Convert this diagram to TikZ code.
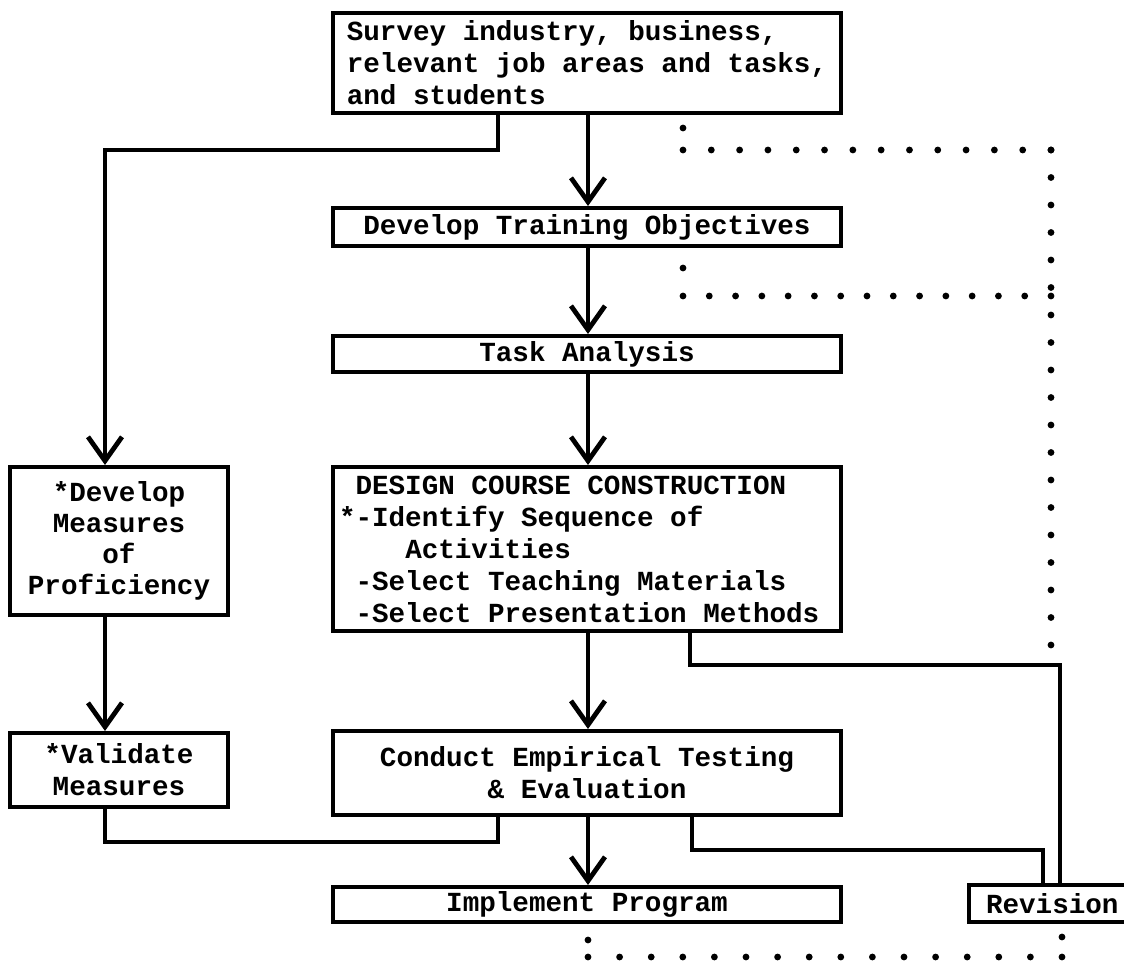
\documentclass[tikz,border=0pt]{standalone}
\usepackage{fontspec}
\setmainfont{Liberation Mono}
\usetikzlibrary{arrows.meta,calc}
\newcommand\dotrow[3]{\foreach \i in {0,...,#3} {\fill ($#1!\i/#3!#2$) circle[radius=1.7pt];}}
\begin{document}
\begin{tikzpicture}[x=0.5pt,y=-0.5pt,
  box/.style={draw, line width=2pt, inner xsep=3pt, inner ysep=2pt,
    font=\fontsize{13.8}{16}\selectfont\bfseries},
  conn/.style={line width=1.8pt},
  arr/.style={conn, -{Straight Barb[length=12pt,width=17pt,line width=2.4pt]}}]
\useasboundingbox (0,0) rectangle (1124,961);
\clip (0,0) rectangle (1124,961);
\fill[white] (0,0) rectangle (1124,961);

% boxes
\node[box, minimum width=254pt, minimum height=50pt, align=left] (survey) at (587,63)
  {Survey industry, business,\\relevant job areas and tasks,\\and students};
\node[box, minimum width=254pt, minimum height=19pt] (dto) at (587,227) {Develop Training Objectives};
\node[box, minimum width=254pt, minimum height=18pt] (task) at (587,354) {Task Analysis};
\node[box, minimum width=254pt, minimum height=82pt, text width=248pt, align=flush left] (design) at (587,549)
  {\hphantom{x}DESIGN COURSE CONSTRUCTION\\{}*-Identify Sequence of\\{}\hphantom{xxxx}Activities\\{}\hphantom{x}-Select Teaching Materials\\{}\hphantom{x}-Select Presentation Methods};
\node[box, minimum width=109pt, minimum height=74pt, align=center, font=\fontsize{13.8}{15.5}\selectfont\bfseries] (dmp) at (119,541)
  {*Develop\\Measures\\of\\Proficiency};
\node[box, minimum width=109pt, minimum height=37pt, align=center] (vm) at (119,770)
  {*Validate\\Measures};
\node[box, minimum width=254pt, minimum height=42pt, align=center] (cet) at (587,773)
  {Conduct Empirical Testing\\\& Evaluation};
\node[box, minimum width=254pt, minimum height=17.5pt] (impl) at (587,904.5) {Implement Program};
\node[box, anchor=west, minimum width=120pt, minimum height=18.5pt, inner xsep=8.5pt, text width=103pt, align=left] (rev) at (967,903.5) {Revision};

% junction coordinates
\coordinate (cx) at (588,0);
\coordinate (j1) at (498,150);
\coordinate (j2) at (105,150);
\coordinate (j3) at (105,842);
\coordinate (j4) at (498,842);
\coordinate (j5) at (690,665);
\coordinate (j6) at (1060,665);
\coordinate (j7) at (692,850);
\coordinate (j8) at (1043,850);

% connectors
\draw[arr] (survey.south -| cx) -- (dto.north -| cx);
\draw[arr] (dto.south -| cx) -- (task.north -| cx);
\draw[arr] (task.south -| cx) -- (design.north -| cx);
\draw[arr] (design.south -| cx) -- (cet.north -| cx);
\draw[arr] (cet.south -| cx) -- (impl.north -| cx);
\draw[arr] (survey.south -| j1) -- (j1) -- (j2) -- (dmp.north -| j2);
\draw[arr] (dmp.south -| j2) -- (vm.north -| j2);
\draw[conn] (vm.south -| j3) -- (j3) -- (j4) -- (cet.south -| j4);
\draw[conn] (design.south -| j5) -- (j5) -- (j6) -- (rev.north -| j6);
\draw[conn] (cet.south -| j7) -- (j7) -- (j8) -- (rev.north -| j8);

% dotted feedback lines
\fill (683,128) circle[radius=1.7pt];
\dotrow{(683,150)}{(1051,150)}{13}
\dotrow{(1051,150)}{(1051,645)}{18}
\fill (683,268) circle[radius=1.7pt];
\dotrow{(683,296)}{(1051,296)}{14}
\fill (588,940) circle[radius=1.7pt];
\dotrow{(588,957)}{(1062,957)}{15}
\fill (1062,937) circle[radius=1.7pt];
\end{tikzpicture}
\end{document}
